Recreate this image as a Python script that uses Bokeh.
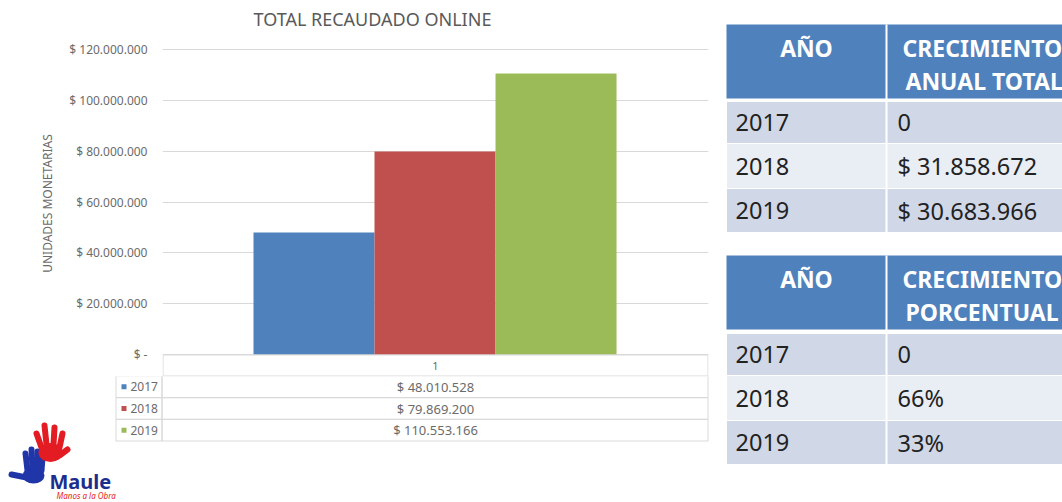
import numpy as np
from bokeh.plotting import figure
from bokeh.models import Range1d, FixedTicker, CustomJSTickFormatter, ColumnDataSource, Title
from bokeh.layouts import row, column
from bokeh.embed import file_html
from bokeh.resources import INLINE
from bokeh.core.properties import value

# ---------------- data ----------------
years = ["2017", "2018", "2019"]
totals = [48010528, 79869200, 110553166]
bar_colors = ["#4F81BD", "#C0504D", "#9BBB59"]
y_ticks = [0, 20000000, 40000000, 60000000, 80000000, 100000000, 120000000]
category_label = "1"
title_text = "TOTAL RECAUDADO ONLINE"
y_label = "UNIDADES MONETARIAS"

growth_total = [0, 31858672, 30683966]
growth_pct = [0, 66, 33]
t1_header = ["AÑO", "CRECIMIENTO", "ANUAL TOTAL"]
t2_header = ["AÑO", "CRECIMIENTO", "PORCENTUAL"]


def fmt_money(v):
    if v == 0:
        return "0"
    return "$ " + f"{v:,}".replace(",", ".")


def fmt_pct(v):
    if v == 0:
        return "0"
    return f"{v}%"


FONT = value("Noto Sans")
GRAY = "#6b6b6b"
GRID = "#D9D9D9"

# ---------------- chart ----------------
SC = 120e6 / 305.0  # value per pixel
TOP = 30  # frame top (page px)
chart = figure(width=718, height=376,
               x_range=Range1d(-0.752, 3.760),
               y_range=Range1d(-22 * SC, 120e6 + (49 - TOP) * SC),
               output_backend="svg", toolbar_location=None,
               x_axis_location=None, y_axis_location="left",
               min_border_left=162, min_border_right=10,
               min_border_top=TOP, min_border_bottom=0)
chart.title = Title(text=title_text, align="left", offset=91, standoff=0,
                    text_font="Noto Sans", text_font_size="18px",
                    text_font_style="normal", text_color="#595959")
chart.extra_x_ranges = {"px": Range1d(162, 708)}
chart.extra_y_ranges = {"px": Range1d(376, TOP)}
chart.outline_line_color = None
chart.xgrid.visible = False
chart.ygrid.ticker = FixedTicker(ticks=y_ticks)
chart.ygrid.grid_line_color = GRID
chart.ygrid.grid_line_width = 1

yax = chart.yaxis[0]
yax.ticker = FixedTicker(ticks=y_ticks)
yax.formatter = CustomJSTickFormatter(code="""
if (tick == 0) { return "$ -"; }
return "$ " + Math.round(tick).toString().replace(/\\B(?=(\\d{3})+(?!\\d))/g, ".");
""")
yax.axis_line_color = None
yax.major_tick_line_color = None
yax.minor_tick_line_color = None
yax.major_tick_out = 0
yax.major_tick_in = 0
yax.major_label_standoff = 15
yax.major_label_text_font = "Noto Sans"
yax.major_label_text_font_size = "12px"
yax.major_label_text_color = GRAY
yax.axis_label = y_label
yax.axis_label_text_font = "Noto Sans"
yax.axis_label_text_font_size = "12px"
yax.axis_label_text_font_style = "normal"
yax.axis_label_text_color = GRAY
yax.axis_label_standoff = 10

src = ColumnDataSource(dict(x=np.arange(len(years)) + 0.5, top=totals,
                            color=bar_colors, year=years))
chart.vbar(x="x", top="top", bottom=0, width=1.0, fill_color="color",
           line_color=None, source=src)

# data-table header row ("1")
chart.quad(left=[162.5], right=[707.5], top=[354.5], bottom=[375.5],
           x_range_name="px", y_range_name="px",
           fill_color=None, line_color=GRID, line_width=1)
chart.text(x=[435], y=[365], text=[category_label], x_range_name="px", y_range_name="px",
           text_align="center", text_baseline="middle", text_font=FONT,
           text_font_size="11px", text_color=GRAY)

# ---------------- data table + logo ----------------
bottom = figure(width=718, height=126, x_range=Range1d(0, 718), y_range=Range1d(502, 376),
                output_backend="svg", toolbar_location=None,
                x_axis_location=None, y_axis_location=None, min_border=0,
                min_border_left=0, min_border_right=0, min_border_top=0,
                min_border_bottom=0)
bottom.grid.visible = False
bottom.outline_line_color = None

n = len(years)
row_h = 21.67
tops = [375.5 + row_h * i for i in range(n)]
bots = [375.5 + row_h * (i + 1) for i in range(n)]
mids = [(a + b) / 2 for a, b in zip(tops, bots)]
bottom.quad(left=[115.5] * n, right=[161.5] * n, top=tops, bottom=bots,
            fill_color=None, line_color=GRID)
bottom.quad(left=[161.5] * n, right=[707.5] * n, top=tops, bottom=bots,
            fill_color=None, line_color=GRID)
bottom.rect(x=[123.5] * n, y=mids, width=5, height=5, fill_color=bar_colors, line_color=None)
bottom.text(x=[130] * n, y=mids, text=years, text_align="left", text_baseline="middle",
            text_font=FONT, text_font_size="12px", text_color=GRAY)
bottom.text(x=[435] * n, y=mids, text=["$ " + f"{v:,}".replace(",", ".") for v in totals],
            text_align="center", text_baseline="middle",
            text_font=FONT, text_font_size="13px", text_color=GRAY)

# logo (decorative hands + text)
RED = "#E31B23"
BLUE = "#1F35A8"
bottom.ellipse(x=[33], y=[475], width=22, height=16, fill_color=BLUE, line_color=None)
bottom.segment(x0=[27, 32, 37, 41, 26], y0=[470, 468, 468, 470, 477],
               x1=[25, 31, 37, 42, 11], y1=[453, 449, 451, 457, 474],
               line_color=BLUE, line_width=6, line_cap="round")
bottom.ellipse(x=[50], y=[452], width=24, height=19, fill_color=RED, line_color=None)
bottom.segment(x0=[41, 46, 53, 59, 59], y0=[447, 444, 444, 447, 455],
               x1=[36, 44, 54, 62, 67], y1=[433, 425, 427, 433, 449],
               line_color=RED, line_width=6, line_cap="round")
bottom.text(x=[49], y=[481], text=["Maule"], text_align="left", text_baseline="middle",
            text_font=FONT, text_font_size="20px", text_font_style="bold",
            text_color="#1C2D8F")
bottom.text(x=[56], y=[495], text=["Manos a la Obra"], text_align="left",
            text_baseline="middle", text_font=FONT, text_font_size="8px",
            text_font_style="italic", text_color=RED)

# ---------------- right tables ----------------
right = figure(width=344, height=502, x_range=Range1d(718, 1062), y_range=Range1d(502, 0),
               output_backend="svg", toolbar_location=None,
               x_axis_location=None, y_axis_location=None, min_border=0,
               min_border_left=0, min_border_right=0, min_border_top=0,
               min_border_bottom=0)
right.grid.visible = False
right.outline_line_color = None

HEAD = "#4F81BD"
ROW_COLORS = ["#D0D8E8", "#E9EDF4", "#D0D8E8"]


def draw_table(fig, head_top, head_bot, row_tops, row_bots, header, values):
    fig.quad(left=[726], right=[1080], top=[head_top], bottom=[head_bot],
             fill_color=HEAD, line_color=None)
    fig.quad(left=[726] * n, right=[1080] * n, top=row_tops, bottom=row_bots,
             fill_color=ROW_COLORS, line_color="white", line_width=1)
    fig.segment(x0=[886], y0=[head_top], x1=[886], y1=[row_bots[-1]],
                line_color="white", line_width=2)
    fig.text(x=[806], y=[head_top + 23], text=[header[0]], text_align="center",
             text_baseline="middle", text_font=FONT, text_font_size="23px",
             text_font_style="bold", text_color="white")
    fig.text(x=[902, 905], y=[head_top + 23, head_top + 56], text=header[1:],
             text_align="left", text_baseline="middle", text_font=FONT,
             text_font_size="23px", text_font_style="bold", text_color="white")
    cy = [(a + b) / 2 for a, b in zip(row_tops, row_bots)]
    fig.text(x=[735] * n, y=cy, text=years, text_align="left", text_baseline="middle",
             text_font=FONT, text_font_size="23.5px", text_color="#222222")
    fig.text(x=[897] * n, y=cy, text=values, text_align="left", text_baseline="middle",
             text_font=FONT, text_font_size="23.5px", text_color="#222222")


draw_table(right, 24, 98, [101, 143, 188], [143, 188, 232], t1_header,
           [fmt_money(v) for v in growth_total])
draw_table(right, 255, 329, [333, 375, 420], [375, 420, 464], t2_header,
           [fmt_pct(v) for v in growth_pct])

layout = row(column(chart, row(bottom)), right)
open("out.html", "w").write(file_html(layout, INLINE))
